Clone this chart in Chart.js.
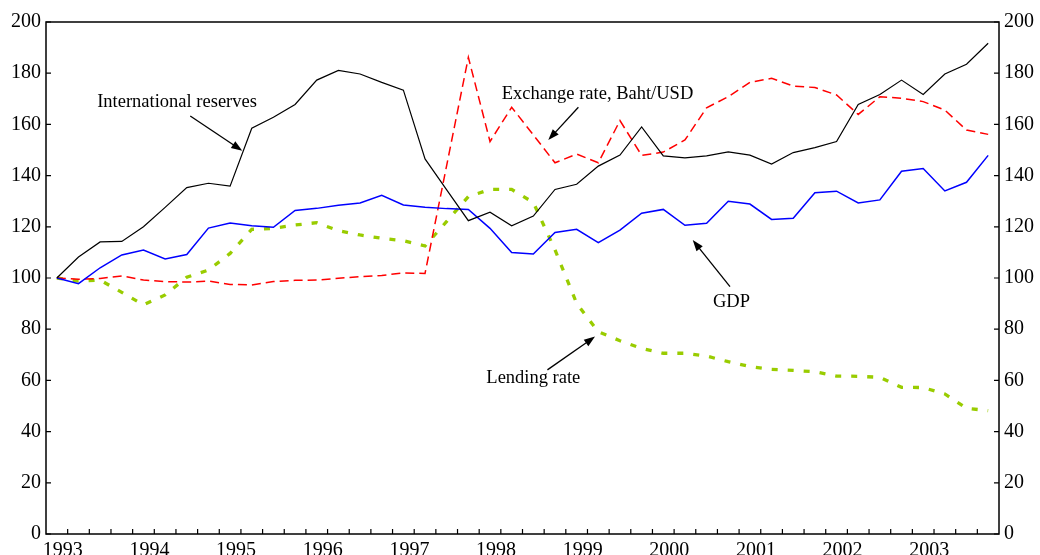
<!DOCTYPE html>
<html>
<head>
<meta charset="utf-8">
<script src="https://cdn.jsdelivr.net/npm/chart.js@4/dist/chart.umd.min.js"></script>
<style>
  html, body { margin: 0; padding: 0; background: #ffffff; }
  #wrap { width: 1040px; height: 555px; }
</style>
</head>
<body>
<div id="wrap"><canvas id="c" width="1040" height="555"></canvas></div>
<script>
// ---- data (quarterly, 1993Q1 = 100) ----
const years = ['1993','1994','1995','1996','1997','1998','1999','2000','2001','2002','2003'];
const quarterNames = ['Q1','Q2','Q3','Q4'];
const categories = [];
years.forEach(y => quarterNames.forEach(q => categories.push(y + q)));

const reserves = [100,108.2,114.1,114.3,120.0,127.6,135.3,137.0,135.9,158.5,
                  162.8,167.8,177.3,181.1,179.7,176.4,173.4,146.5,134.4,122.4,
                  125.7,120.4,124.2,134.6,136.6,143.7,148.0,159.0,147.7,146.9,
                  147.7,149.3,148.0,144.5,149.0,150.9,153.3,167.8,171.7,177.3,
                  171.7,179.7,183.5,191.7];
const gdp = [100,97.8,104.0,109.0,110.9,107.4,109.2,119.5,121.5,120.4,
             119.8,126.4,127.2,128.4,129.3,132.3,128.5,127.6,127.1,126.8,
             119.4,110.0,109.4,117.8,119.0,113.8,118.7,125.3,126.8,120.6,
             121.4,130.0,128.9,122.9,123.3,133.3,133.9,129.3,130.5,141.7,
             142.8,134.0,137.4,147.9];
const exchangeRate = [100,99.5,99.8,100.8,99.2,98.6,98.4,98.8,97.5,97.3,
                      98.6,99.1,99.2,99.9,100.5,101.0,102.0,101.8,144.0,186.2,
                      153.3,166.7,155.9,145.0,148.4,145.0,161.5,147.9,149.2,153.9,
                      166.5,170.8,176.4,178.0,175.0,174.4,171.5,163.9,170.8,170.2,
                      168.9,165.6,157.8,156.1];
const lendingRate = [100,98.8,99.2,94.4,89.5,93.4,100.3,103.1,109.6,119.0,
                     119.4,120.7,121.6,118.5,116.8,115.5,114.6,112.5,122.1,131.8,
                     134.6,134.6,129.5,111.0,90.1,79.0,75.5,72.5,70.6,70.6,
                     69.5,67.3,65.4,64.3,63.9,63.4,61.7,61.6,61.2,57.3,
                     57.2,54.7,49.1,48.2];
const yTickValues = [0,20,40,60,80,100,120,140,160,180,200];

// annotation labels (positions in data units: category index, value)
const annotations = [
  { text: 'International reserves', tx: 5.55, ty: 166.9, ax: 6.16, ay: 163.3, hx: 8.56, hy: 149.7 },
  { text: 'Exchange rate, Baht/USD', tx: 24.96, ty: 169.9, ax: 24.08, ay: 166.7, hx: 22.69, hy: 153.9 },
  { text: 'GDP', tx: 31.15, ty: 88.8, ax: 31.08, ay: 96.6, hx: 29.36, hy: 114.8 },
  { text: 'Lending rate', tx: 22.0, ty: 58.9, ax: 22.65, ay: 64.1, hx: 24.85, hy: 77.1 }
];

Chart.defaults.font.family = '"Liberation Serif", "Times New Roman", serif';
Chart.defaults.color = '#000';

const FONT = { family: '"Liberation Serif", "Times New Roman", serif', size: 20 };

const framePlugin = {
  id: 'frame',
  afterDraw(chart) {
    const { ctx, chartArea: a, scales } = chart;
    ctx.save();
    ctx.strokeStyle = '#000';
    ctx.lineWidth = 1.5;
    ctx.strokeRect(a.left, a.top, a.right - a.left, a.bottom - a.top);
    ctx.lineWidth = 1.2;
    ctx.beginPath();
    // x ticks between quarters, pointing inward
    const xs = scales.x;
    for (let k = 1; k < categories.length; k++) {
      const px = (xs.getPixelForValue(k - 1) + xs.getPixelForValue(k)) / 2;
      ctx.moveTo(px, a.bottom);
      ctx.lineTo(px, a.bottom - 5);
    }
    // y ticks both sides, inward
    yTickValues.forEach(v => {
      const py = scales.y.getPixelForValue(v);
      ctx.moveTo(a.left, py); ctx.lineTo(a.left + 5, py);
      const py2 = scales.y2.getPixelForValue(v);
      ctx.moveTo(a.right, py2); ctx.lineTo(a.right - 5, py2);
    });
    ctx.stroke();
    ctx.restore();
  }
};

const annotationPlugin = {
  id: 'notes',
  afterDatasetsDraw(chart) {
    const { ctx, scales } = chart;
    const X = v => scales.x.getPixelForValue(v);
    const Y = v => scales.y.getPixelForValue(v);
    ctx.save();
    ctx.fillStyle = '#000';
    ctx.strokeStyle = '#000';
    ctx.font = '18.5px "Liberation Serif", "Times New Roman", serif';
    ctx.textAlign = 'center';
    ctx.textBaseline = 'alphabetic';
    annotations.forEach(n => {
      ctx.fillText(n.text, X(n.tx), Y(n.ty));
      const x1 = X(n.ax), y1 = Y(n.ay), x2 = X(n.hx), y2 = Y(n.hy);
      const ang = Math.atan2(y2 - y1, x2 - x1);
      const L = 11, W = 4;
      ctx.lineWidth = 1.3;
      ctx.beginPath();
      ctx.moveTo(x1, y1);
      ctx.lineTo(x2 - Math.cos(ang) * (L - 2), y2 - Math.sin(ang) * (L - 2));
      ctx.stroke();
      ctx.beginPath();
      ctx.moveTo(x2, y2);
      ctx.lineTo(x2 - L * Math.cos(ang) + W * Math.sin(ang), y2 - L * Math.sin(ang) - W * Math.cos(ang));
      ctx.lineTo(x2 - L * Math.cos(ang) - W * Math.sin(ang), y2 - L * Math.sin(ang) + W * Math.cos(ang));
      ctx.closePath();
      ctx.fill();
    });
    ctx.restore();
  }
};

const yAxis = (pos, width) => ({
  position: pos,
  min: 0, max: 200,
  afterFit: s => { s.width = width; },
  afterBuildTicks: s => { s.ticks = yTickValues.map(v => ({ value: v })); },
  grid: { display: false, drawTicks: false },
  border: { display: false },
  ticks: { padding: 5, font: FONT, color: '#000' }
});

new Chart(document.getElementById('c'), {
  type: 'line',
  data: {
    labels: categories,
    datasets: [
      { label: 'International reserves', data: reserves, borderColor: '#000000', borderWidth: 1.2,
        pointRadius: 0, tension: 0, yAxisID: 'y' },
      { label: 'GDP', data: gdp, borderColor: '#0000ff', borderWidth: 1.5,
        pointRadius: 0, tension: 0, yAxisID: 'y' },
      { label: 'Exchange rate, Baht/USD', data: exchangeRate, borderColor: '#ff0000', borderWidth: 1.5,
        borderDash: [9, 5], pointRadius: 0, tension: 0, yAxisID: 'y' },
      { label: 'Lending rate', data: lendingRate, borderColor: '#99cc00', borderWidth: 3.3,
        borderDash: [6, 10], borderCapStyle: 'butt', pointRadius: 0, tension: 0, yAxisID: 'y' }
    ]
  },
  options: {
    responsive: false,
    animation: false,
    devicePixelRatio: 1,
    layout: { padding: { top: 22, left: 0, right: 0, bottom: 0 } },
    plugins: { legend: { display: false }, tooltip: { enabled: false } },
    scales: {
      x: {
        type: 'category',
        offset: true,
        afterFit: s => { s.height = 21; },
        grid: { display: false, drawTicks: false },
        border: { display: false },
        ticks: {
          autoSkip: false, maxRotation: 0, minRotation: 0, padding: 5, labelOffset: 6,
          font: FONT, color: '#000',
          callback: (v, i) => categories[i].endsWith('Q1') ? categories[i].slice(0, 4) : ''
        }
      },
      y: yAxis('left', 46),
      y2: yAxis('right', 41)
    }
  },
  plugins: [framePlugin, annotationPlugin]
});
</script>
</body>
</html>
